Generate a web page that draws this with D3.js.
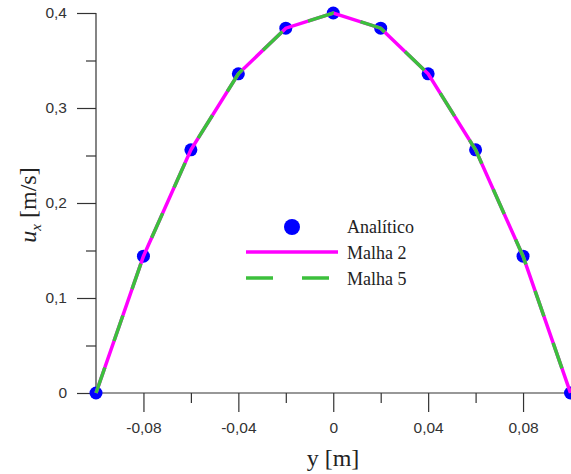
<!DOCTYPE html>
<html>
<head>
<meta charset="utf-8">
<script src="https://cdn.jsdelivr.net/npm/d3@7"></script>
<style>
  html, body { margin: 0; padding: 0; background: #fff; }
  svg { display: block; }
</style>
</head>
<body>
<svg id="chart" width="571" height="474"></svg>
<script>
// Velocity profile u_x(y) across the channel
const positions = [-0.1, -0.08, -0.06, -0.04, -0.02, 0, 0.02, 0.04, 0.06, 0.08, 0.1];
const analitico = [0, 0.144, 0.256, 0.336, 0.384, 0.4, 0.384, 0.336, 0.256, 0.144, 0];
const malha2 = [0, 0.144, 0.256, 0.336, 0.384, 0.4, 0.384, 0.336, 0.256, 0.144, 0];
const malha5 = [0, 0.144, 0.256, 0.336, 0.384, 0.4, 0.384, 0.336, 0.256, 0.144, 0];

const xMajor = [-0.08, -0.04, 0, 0.04, 0.08];
const xMinor = [-0.06, -0.02, 0.02, 0.06];
const yMajor = [0, 0.1, 0.2, 0.3, 0.4];
const yMinor = [0.05, 0.15, 0.25, 0.35];

const legendLabels = ["Analítico", "Malha 2", "Malha 5"];

const SERIF = "'Liberation Serif', 'DejaVu Serif', serif";
const SANS = "'Liberation Sans', 'DejaVu Sans', sans-serif";

const svg = d3.select("#chart");

const x = d3.scaleLinear().domain([-0.1, 0.1]).range([96, 570.5]);
const y = d3.scaleLinear().domain([0, 0.4]).range([393, 13]);

const fmt = v => v === 0 ? "0" : d3.format(".2~f")(v).replace(".", ",").replace("−", "-");
const fmtY = v => v === 0 ? "0" : d3.format(".1f")(v).replace(".", ",");

// Axes
const axisColor = "#333";
const xAxisG = svg.append("g").attr("transform", `translate(0,${y(0)})`);
xAxisG.call(d3.axisBottom(x).tickValues(xMajor).tickSize(19).tickPadding(10).tickFormat(fmt))
  .call(g => g.select(".domain").remove());
xAxisG.append("g").call(d3.axisBottom(x).tickValues(xMinor).tickSize(10).tickFormat(""))
  .call(g => g.select(".domain").remove());
xAxisG.append("line").attr("x1", x(-0.1)).attr("x2", x(0.1)).attr("stroke", axisColor).attr("stroke-width", 1.2);

const yAxisG = svg.append("g").attr("transform", `translate(${x(-0.1)},0)`);
yAxisG.call(d3.axisLeft(y).tickValues(yMajor).tickSize(19).tickPadding(10).tickFormat(fmtY))
  .call(g => g.select(".domain").remove());
yAxisG.append("g").call(d3.axisLeft(y).tickValues(yMinor).tickSize(10).tickFormat(""))
  .call(g => g.select(".domain").remove());
yAxisG.append("line").attr("y1", y(0)).attr("y2", y(0.4)).attr("stroke", axisColor).attr("stroke-width", 1.2);

svg.selectAll(".tick line").attr("stroke", axisColor).attr("stroke-width", 1.2);
svg.selectAll(".tick text")
  .attr("fill", "#333")
  .style("font-family", SANS)
  .style("font-size", "15.5px");

// Axis titles
svg.append("text")
  .attr("x", 333).attr("y", 466)
  .attr("text-anchor", "middle")
  .style("font-family", SERIF)
  .style("font-size", "24px")
  .attr("fill", "#222")
  .text("y [m]");

const yTitle = svg.append("text")
  .attr("transform", `translate(36,205) rotate(-90)`)
  .attr("text-anchor", "middle")
  .style("font-family", SERIF)
  .style("font-size", "24px")
  .attr("fill", "#222");
yTitle.append("tspan").style("font-style", "italic").text("u");
yTitle.append("tspan").style("font-style", "italic").style("font-size", "15px").attr("dy", 5).text("x");
yTitle.append("tspan").attr("dy", -5).text(" [m/s]");

// Data marks
const data = positions.map((p, i) => ({ p, a: analitico[i], m2: malha2[i], m5: malha5[i] }));

svg.append("g").selectAll("circle").data(data).join("circle")
  .attr("cx", d => x(d.p)).attr("cy", d => y(d.a)).attr("r", 6.5)
  .attr("fill", "#0000ff");

const line2 = d3.line().x(d => x(d.p)).y(d => y(d.m2));
const line5 = d3.line().x(d => x(d.p)).y(d => y(d.m5));

svg.append("path").datum(data).attr("d", line2)
  .attr("fill", "none").attr("stroke", "#ff00ff").attr("stroke-width", 3.5);
svg.append("path").datum(data).attr("d", line5)
  .attr("fill", "none").attr("stroke", "#3cc03c").attr("stroke-width", 3.5)
  .attr("stroke-dasharray", "27,28");

// Legend
const lg = svg.append("g");
lg.append("circle").attr("cx", 292).attr("cy", 227).attr("r", 8).attr("fill", "#0000ff");
lg.append("line").attr("x1", 246).attr("x2", 338).attr("y1", 252).attr("y2", 252)
  .attr("stroke", "#ff00ff").attr("stroke-width", 3.5);
lg.append("line").attr("x1", 246).attr("x2", 330).attr("y1", 278).attr("y2", 278)
  .attr("stroke", "#3cc03c").attr("stroke-width", 3.5).attr("stroke-dasharray", "27,29");
lg.selectAll("text").data(legendLabels).join("text")
  .attr("x", 347).attr("y", (d, i) => 233 + i * 26)
  .style("font-family", SERIF)
  .style("font-size", "18px").attr("fill", "#222")
  .text(d => d);
</script>
</body>
</html>
